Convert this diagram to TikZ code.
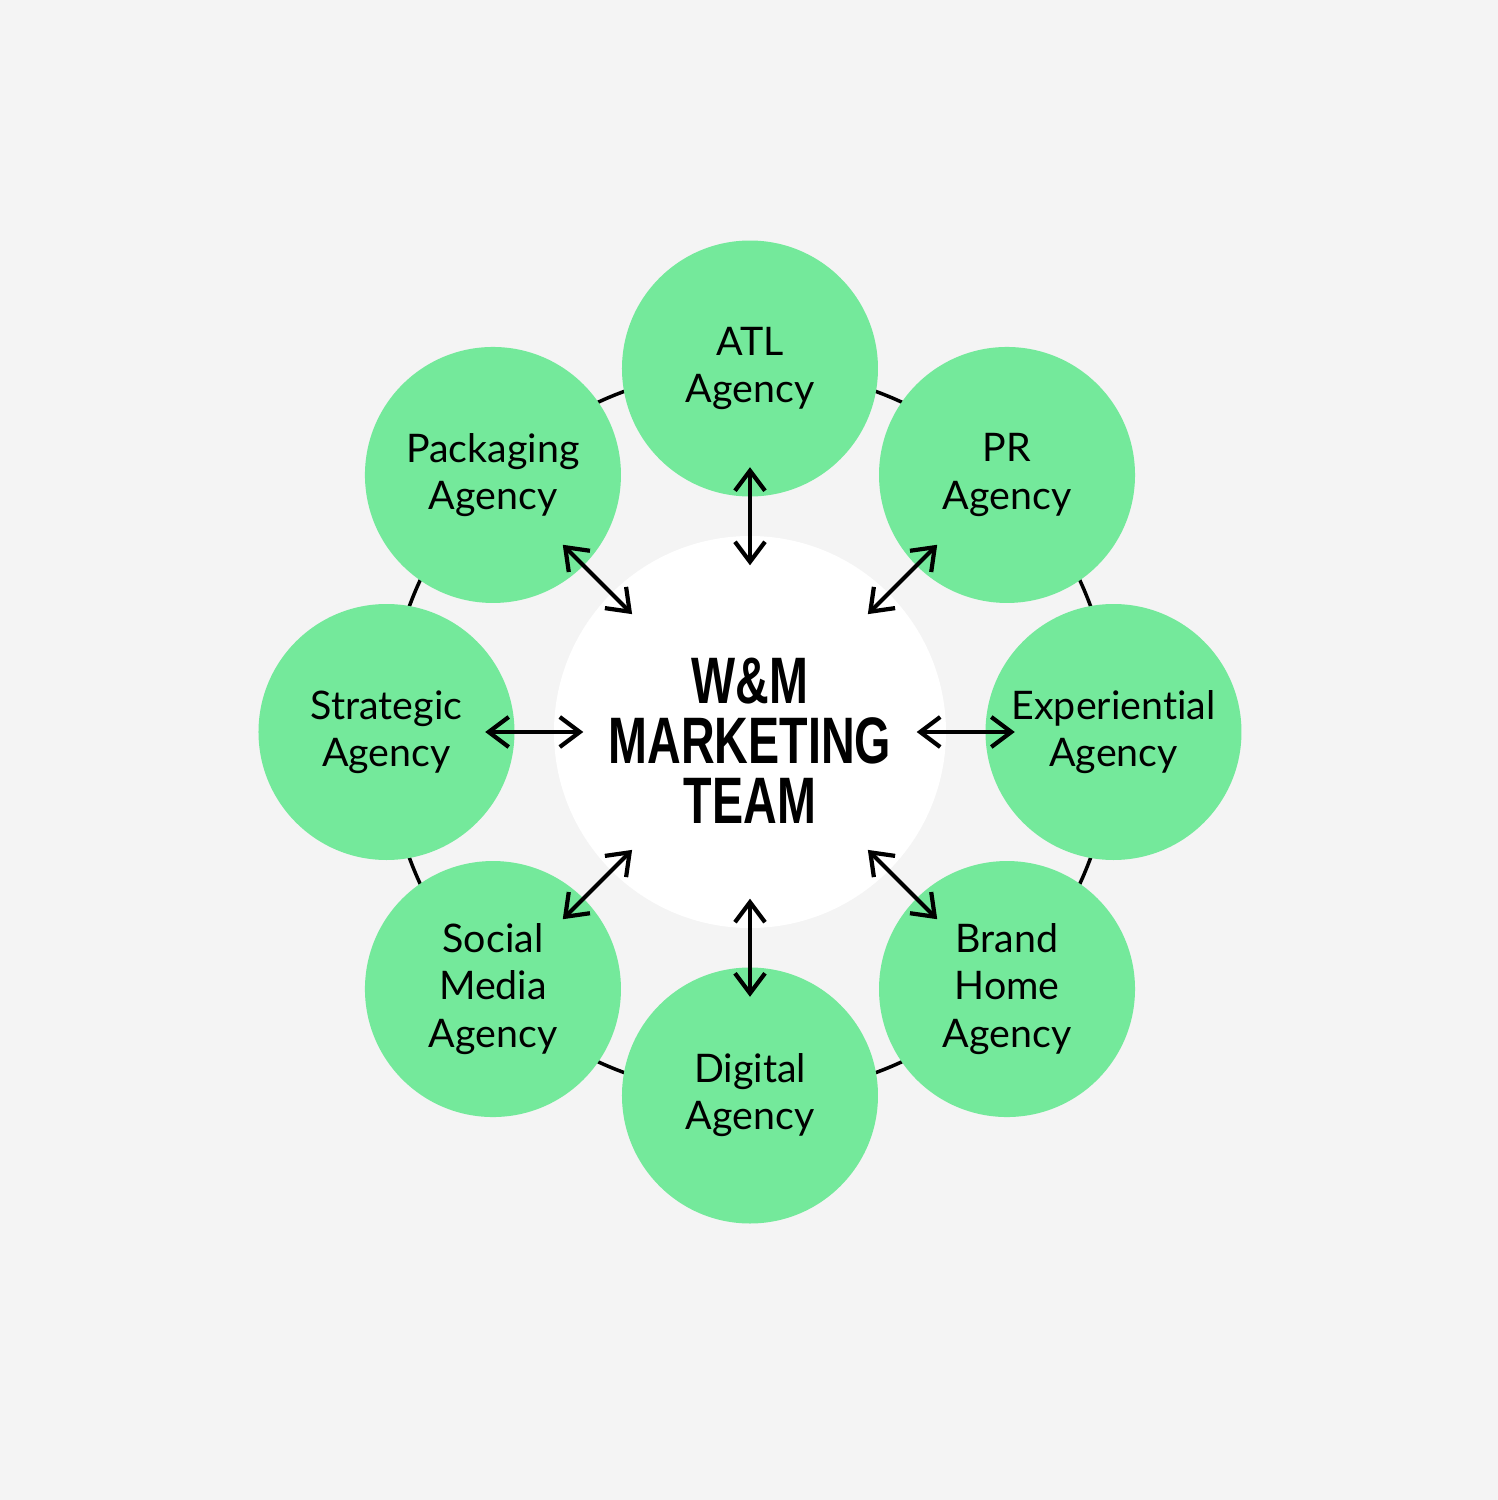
\documentclass[tikz,border=0pt]{standalone}
\usepackage{fontspec}
\setmainfont{Lato}[Ligatures=NoCommon]
\newfontfamily\headfont{Liberation Sans}
\usetikzlibrary{arrows.meta}

\definecolor{agencygreen}{HTML}{74E99B}
\definecolor{paper}{HTML}{F4F4F4}

\tikzset{
  agency/.style={circle, fill=agencygreen, minimum size=2.56cm, inner sep=0pt, align=center,
    font=\fontsize{11.2}{13.4}\selectfont},
  hub/.style={circle, fill=white, minimum size=3.92cm, inner sep=0pt},
  link/.style={{Straight Barb[length=2mm,width=3mm]}-{Straight Barb[length=2mm,width=3mm]},
    line width=1.2pt, shorten <=-3mm, shorten >=-3mm},
}

\begin{document}
\begin{tikzpicture}
\fill[paper] (-7.5,-7.68) rectangle (7.48,7.32);
\draw[line width=1pt] (0,0) circle (3.63);

\node[hub] (team) at (0,0) {};
\node[font=\headfont\bfseries\fontsize{18.7}{17}\selectfont, xscale=0.71, align=center] (title) at (0,-0.09) {W\&M\\MARKETING\\TEAM};

\node[agency] (atl) at (90:3.635) {ATL\\Agency};
\node[agency] (pr) at (45:3.635) {PR\\Agency};
\node[agency] (exp) at (0:3.635) {Experiential\\Agency};
\node[agency] (brand) at (-45:3.635) {Brand\\Home\\Agency};
\node[agency] (digital) at (-90:3.635) {Digital\\Agency};
\node[agency] (social) at (-135:3.635) {Social\\Media\\Agency};
\node[agency] (strat) at (180:3.635) {Strategic\\Agency};
\node[agency] (pack) at (135:3.635) {Packaging\\Agency};

\foreach \n in {atl,pr,exp,brand,digital,social,strat,pack}
  \draw[link] (team) -- (\n);

\end{tikzpicture}
\end{document}
